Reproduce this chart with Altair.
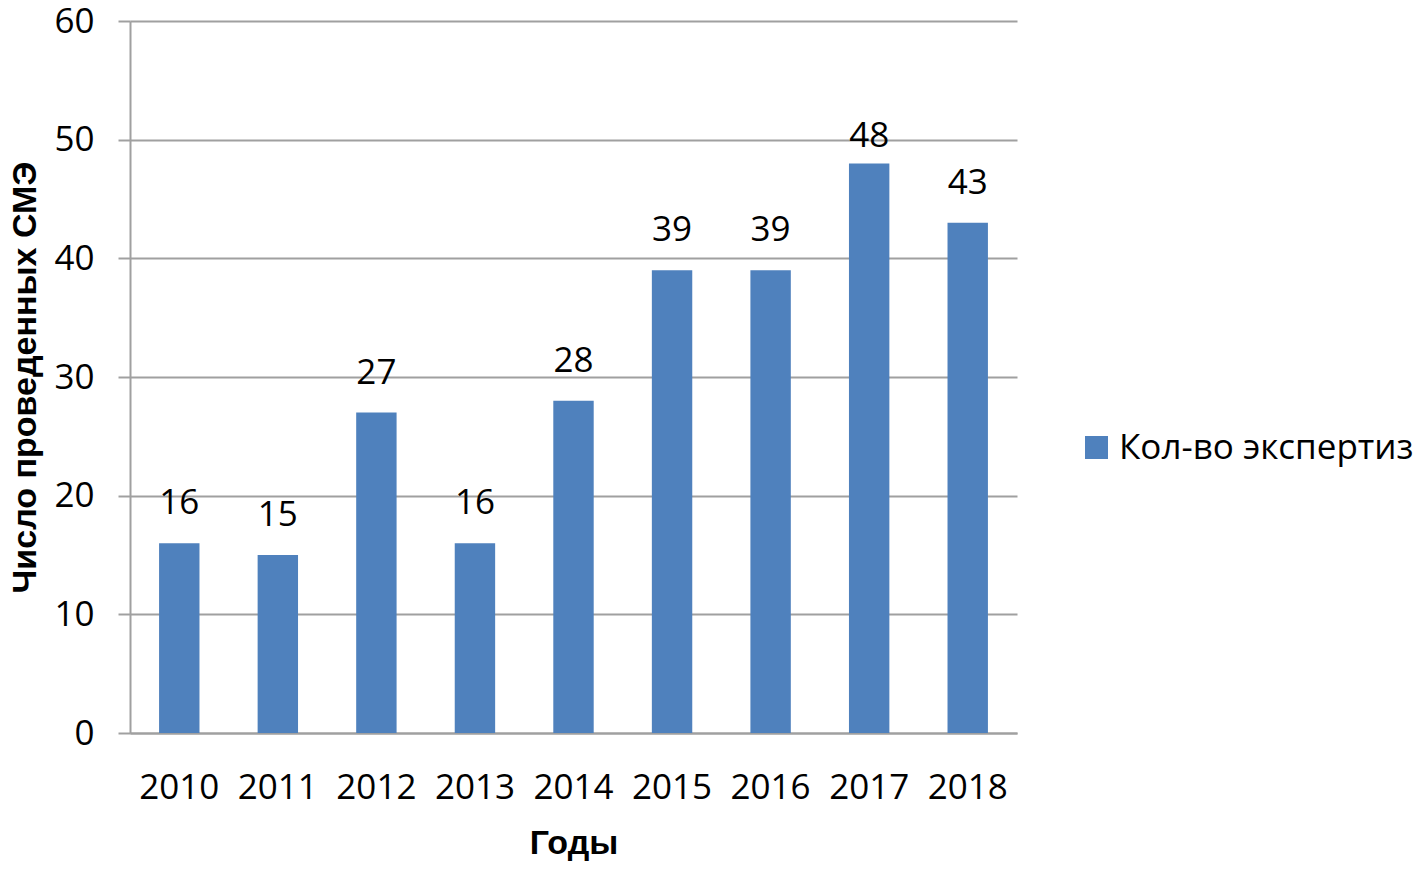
import altair as alt
import pandas as pd

years = ["2010", "2011", "2012", "2013", "2014", "2015", "2016", "2017", "2018"]
counts = [16, 15, 27, 16, 28, 39, 39, 48, 43]
series = ["Кол-во экспертиз"] * len(years)
y_ticks = [0, 10, 20, 30, 40, 50, 60]

df = pd.DataFrame({"year": years, "count": counts, "series": series})

LABEL_FONT = "Open Sans"
TITLE_FONT = "Liberation Sans"
GRID = "#A0A0A0"
BAR = "#4F81BD"

base = alt.Chart(df)

bars = base.mark_bar(color=BAR).encode(
    x=alt.X(
        "year:N",
        sort=years,
        scale=alt.Scale(paddingInner=0.59, paddingOuter=0.295),
        axis=alt.Axis(
            title="Годы",
            labelAngle=0,
            labelFont=LABEL_FONT,
            labelFontSize=35,
            labelColor="black",
            labelPadding=37,
            ticks=False,
            domainColor=GRID,
            domainWidth=2,
            titleFont=TITLE_FONT,
            titleFontSize=34,
            titleFontWeight="bold",
            titleColor="black",
            titlePadding=21,
        ),
    ),
    y=alt.Y(
        "count:Q",
        scale=alt.Scale(domain=[0, 60], nice=False),
        axis=alt.Axis(
            title="Число проведенных СМЭ",
            values=y_ticks,
            labelFont=LABEL_FONT,
            labelFontSize=35,
            labelColor="black",
            labelPadding=24,
            tickSize=12,
            tickColor=GRID,
            tickWidth=2,
            domainColor=GRID,
            domainWidth=2,
            gridColor=GRID,
            gridWidth=2,
            titleFont=TITLE_FONT,
            titleFontSize=34,
            titleFontWeight="bold",
            titleColor="black",
            titlePadding=11,
        ),
    ),
    color=alt.Color(
        "series:N",
        scale=alt.Scale(range=[BAR]),
        legend=alt.Legend(
            title=None,
            orient="none",
            legendX=949,
            legendY=409,
            symbolType="square",
            symbolSize=529,
            symbolStrokeWidth=0,
            labelFont=LABEL_FONT,
            labelFontSize=35,
            labelColor="black",
            labelOffset=5,
            padding=0,
            labelLimit=400,
        ),
    ),
)

labels = base.mark_text(
    font=LABEL_FONT, fontSize=35, color="black", baseline="alphabetic", dy=-29
).encode(
    x=alt.X("year:N", sort=years),
    y=alt.Y("count:Q"),
    text=alt.Text("count:Q"),
).transform_filter("datum.year != '2017'")

labels_top = base.mark_text(
    font=LABEL_FONT, fontSize=35, color="black", baseline="alphabetic", dy=-16
).encode(
    x=alt.X("year:N", sort=years),
    y=alt.Y("count:Q"),
    text=alt.Text("count:Q"),
).transform_filter("datum.year == '2017'")

chart = (
    alt.layer(bars, labels, labels_top)
    .properties(
        width=887,
        height=712,
        autosize=alt.AutoSizeParams(type="none"),
        padding={"left": 122, "top": 13, "right": 396, "bottom": 129},
    )
    .configure_view(stroke=None)
    .configure_axis(grid=True)
    .configure_axisX(grid=False)
)

chart.save("out.html", embed_options={"renderer": "svg", "actions": False})
